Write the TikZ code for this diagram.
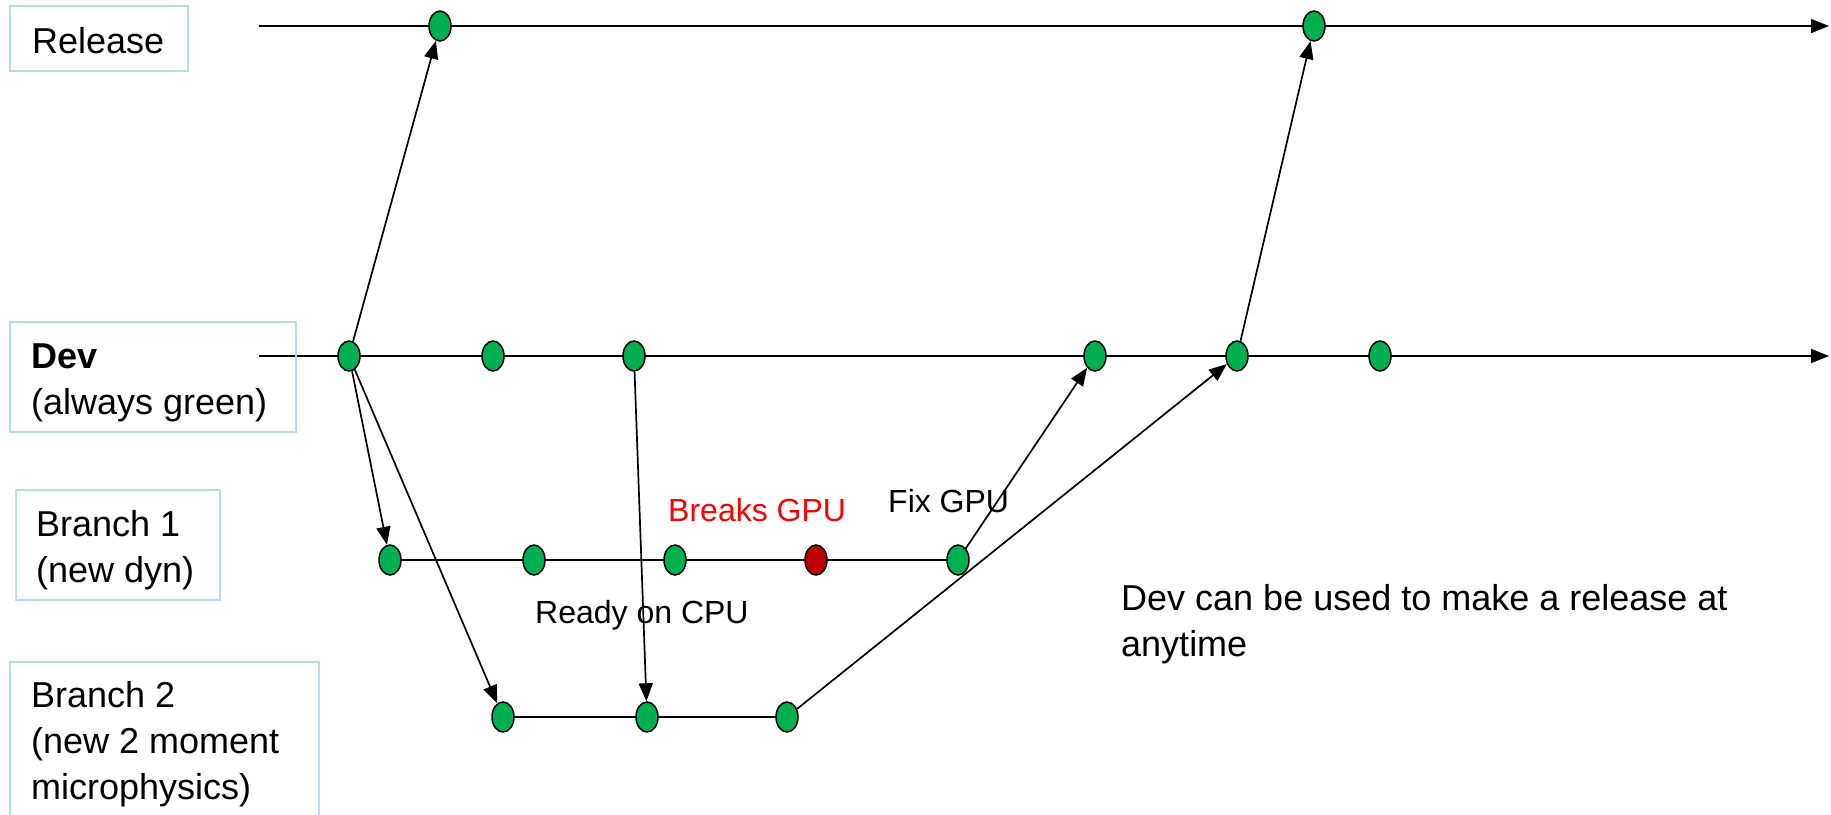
\documentclass[tikz,border=0pt]{standalone}
\usepackage{fontspec}
\setmainfont{Liberation Sans}
\usetikzlibrary{arrows.meta,shapes.geometric,backgrounds}
\definecolor{cgreen}{RGB}{0,176,80}
\definecolor{cred}{RGB}{192,0,0}
\definecolor{cbox}{RGB}{183,221,232}
\begin{document}
\begin{tikzpicture}[x=1pt,y=-1pt,
  commit/.style={ellipse, draw=black, line width=1.5pt, fill=cgreen, minimum width=22pt, minimum height=30pt, inner sep=0pt},
  bad/.style={commit, fill=cred},
  arr/.style={line width=1.7pt, -{Triangle[length=18pt,width=14pt]}},
  plain/.style={line width=1.7pt},
  lbox/.style={draw=cbox, line width=2pt},
  big/.style={inner sep=0pt, anchor=base west, align=left, font=\fontsize{36}{46}\selectfont},
  small/.style={inner sep=0pt, anchor=base west, font=\fontsize{32}{38}\selectfont}]
\useasboundingbox (0,0) rectangle (1831,814);
% label boxes
\draw[lbox] (10,6) rectangle (188,71);
\draw[lbox] (10,322) rectangle (296,432);
\draw[lbox] (16,490) rectangle (220,600);
\draw[lbox] (10,818) -- (10,662) -- (319,662) -- (319,818);
\node[big] (tRel) at (32,53) {Release};
\node[big] (tDev) at (31,414) {\textbf{Dev}\\(always green)};
\node[big] (tB1) at (36,582) {Branch 1\\(new dyn)};
\node[big] (tB2) at (31,799) {Branch 2\\(new 2 moment\\microphysics)};
% commits
\node[commit] (r1) at (440,26) {};
\node[commit] (r2) at (1314,26) {};
\node[commit] (d1) at (349,356) {};
\node[commit] (d2) at (493,356) {};
\node[commit] (d3) at (634,356) {};
\node[commit] (d4) at (1095,356) {};
\node[commit] (d5) at (1237,356) {};
\node[commit] (d6) at (1380,356) {};
\node[commit] (a1) at (390,560) {};
\node[commit] (a2) at (534,560) {};
\node[commit] (a3) at (675,560) {};
\node[bad] (a4) at (816,560) {};
\node[commit] (a5) at (958,560) {};
\node[commit] (b1) at (503,717) {};
\node[commit] (b2) at (647,717) {};
\node[commit] (b3) at (787,717) {};
\coordinate (rs) at (259,26);
\coordinate (re) at (1829,26);
\coordinate (ds) at (259,356);
\coordinate (de) at (1829,356);
\begin{scope}[on background layer]
\draw[arr] (rs) -- (re);
\draw[arr] (ds) -- (de);
\draw[plain] (a1.center) -- (a5.center);
\draw[plain] (b1.center) -- (b3.center);
\end{scope}
% connectors
\draw[arr] (d1) -- (r1);
\draw[arr] (d1) -- (a1);
\draw[arr] (d1) -- (b1);
\draw[arr] (d3) -- (b2);
\draw[arr] (a5) -- (d4);
\draw[arr] (b3) -- (d5);
\draw[arr] (d5) -- (r2);
% labels
\node[small, text=red] (lBreak) at (668,521) {Breaks GPU};
\node[small] (lFix) at (888,512) {Fix GPU};
\node[small] (lReady) at (535,623) {Ready on CPU};
\node[big] (lNote) at (1121,656) {Dev can be used to make a release at\\anytime};
\end{tikzpicture}
\end{document}
